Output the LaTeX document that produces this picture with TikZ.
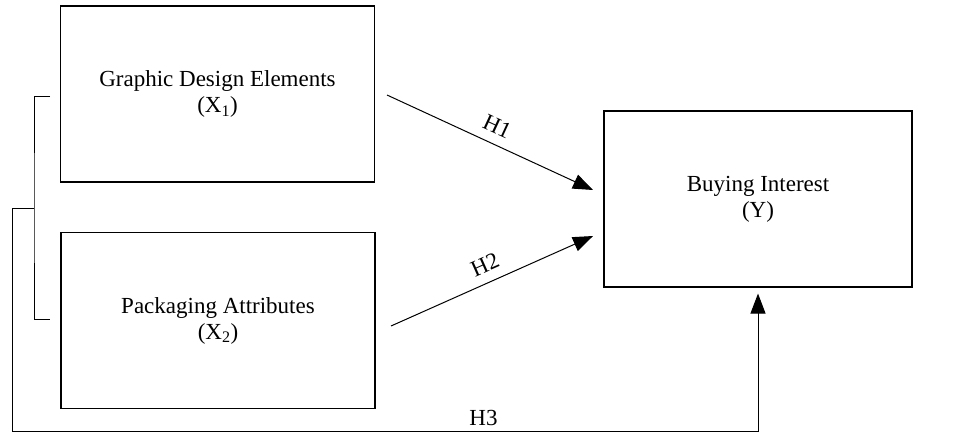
\documentclass[tikz,border=0pt]{standalone}
\usepackage{fontspec}
\setmainfont{Liberation Serif}
\usepackage{tikz}
\usetikzlibrary{arrows.meta}
\usetikzlibrary{positioning}
\usetikzlibrary{calc}

\begin{document}
\begin{tikzpicture}[x=1pt,y=-1pt,font=\fontsize{23}{26}\selectfont]
    \useasboundingbox (0,0) rectangle (968,432);
    \begin{scope}[every node/.style={draw,line width=1.1pt,minimum width=314pt,minimum height=176pt,align=center,inner sep=0pt}]
    \node (x1) at (217.5,94) {Graphic Design Elements\\(X\textsubscript{1})};
    \node (x2) at (218,320.5) {Packaging Attributes\\(X\textsubscript{2})};
    \node[minimum width=308pt] (y) at (758,199) {Buying Interest\\(Y)};
    \end{scope}
    \coordinate (b1) at (50,96);
    \coordinate (b2) at (50,319);
    \coordinate (j) at (34,208);
    \coordinate (c) at (12,208);
    \coordinate (d) at (12,431);
    \coordinate (h1) at (387,95);
    \coordinate (h2) at (391,326);
    \coordinate (t1) at (593,190);
    \coordinate (t2) at (593,236);
    \begin{scope}[every path/.style={line width=1pt},every edge/.style={draw,-{Triangle[length=20pt,width=15pt]}}]
    \draw (b1) -| (j) |- (b2);
    \path (h1) edge node[sloped,above=6pt] {H1} (t1);
    \path (h2) edge node[sloped,above=6pt] {H2} (t2);
    \draw[-{Triangle[length=20pt,width=15pt]},shorten >=6pt] (j) -- (c) -- (d) -| node[pos=0.316,above=1pt] {H3} (y.south);
    \end{scope}
\end{tikzpicture}
\end{document}
